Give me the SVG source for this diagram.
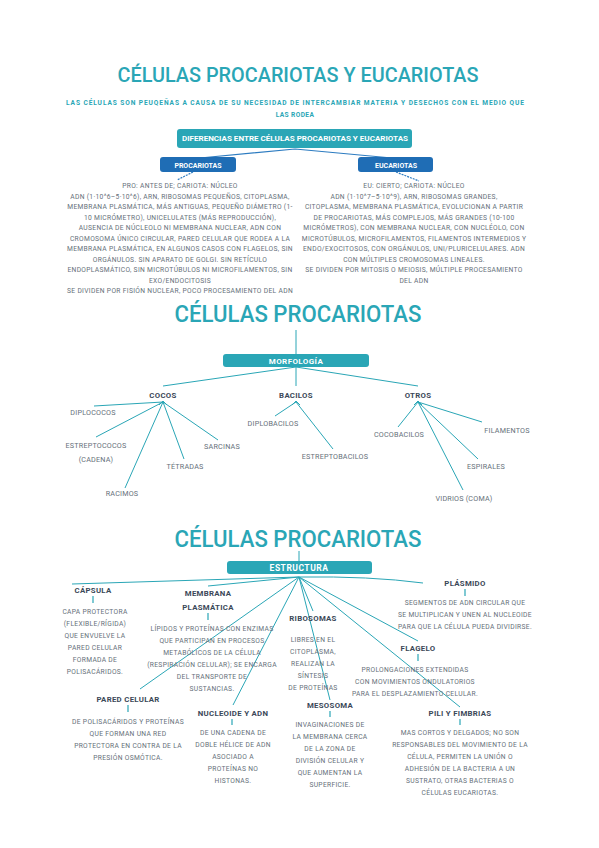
<svg xmlns="http://www.w3.org/2000/svg" width="599" height="848" viewBox="0 0 599 848">
<style>
text{font-family:Roboto,"Liberation Sans",sans-serif;text-anchor:middle}
.title{fill:#2aa6b6;font-weight:500}
.sub{fill:#2aa6b6;font-weight:700;font-size:6.6px}
.boxT{fill:#ffffff;font-weight:700}
.body{fill:#66707a;font-size:6.7px;letter-spacing:0.32px}
.lbl{fill:#3b4858;font-weight:700;font-size:7.8px;letter-spacing:0.3px}
.cat{fill:#66707a;font-size:7.2px;letter-spacing:0.2px}
.ln{stroke:#2aa6b6;stroke-width:1;fill:none}
.bl{stroke:#2d7cc1;stroke-width:1.2;fill:none}
.tick{stroke:#2aa6b6;stroke-width:1.2}
</style>
<rect width="599" height="848" fill="#ffffff"/>

<!-- header -->
<g id="header">
<text class="title" x="298" y="82" font-size="20" textLength="361" lengthAdjust="spacingAndGlyphs">CÉLULAS PROCARIOTAS Y EUCARIOTAS</text>
<text class="sub" x="295" y="105" textLength="458" lengthAdjust="spacing">LAS CÉLULAS SON PEUQEÑAS A CAUSA DE SU NECESIDAD DE INTERCAMBIAR MATERIA Y DESECHOS CON EL MEDIO QUE</text>
<text class="sub" x="295" y="117" letter-spacing="0.4">LAS RODEA</text>
</g>

<!-- connectors -->
<g id="connectors">
<path class="bl" d="M295 149 L200 158 M295 149 L392 158"/>
<path class="bl" d="M193 172 L177 180 M396 172 L419 181" stroke-dasharray="2 1"/>
<path class="ln" d="M296 330 V354"/>
<path class="ln" d="M296 367 L163 386 M296 367 V386 M296 367 L418 386"/>
<path class="ln" d="M163 402 L94 406 M163 402 L96 437 M163 402 L125 488 M163 402 L184 459 M163 402 L218 440"/>
<path class="ln" d="M296 402 L275 416 M296 402 L333 449"/>
<path class="ln" d="M418 402 L398 427 M418 402 L482 422 M418 402 L478 459 M418 402 L463 490"/>
<path class="ln" d="M159 405 L163 401 L167 405 M292 405 L296 401 L300 405 M414 405 L418 401 L422 405"/>
<path class="ln" d="M299 551 V561"/>
<path class="ln" d="M299 577 L72 584 M299 577 L208 586 M299 577 L140 689 M299 577 L233 705 M299 577 L313 611 M299 577 L330 700 M299 577 L418 641 M299 577 L460 707 M299 577 Q370 576 423 583"/>
<path class="tick" d="M93 596 V603 M208 613 V620 M128 705 V712 M465 589 V596 M418 654 V661 M232 719 V725 M330 711 V717 M460 719 V725"/>
</g>

<!-- differences -->
<g id="diferencias">
<rect x="177" y="129" width="235" height="19" rx="3" fill="#2aa6b6"/>
<text class="boxT" x="295" y="141" font-size="6.5" textLength="226" lengthAdjust="spacingAndGlyphs">DIFERENCIAS ENTRE CÉLULAS PROCARIOTAS Y EUCARIOTAS</text>
</g>
<g id="procariotas">
<rect x="160" y="157" width="76" height="15" rx="3" fill="#1f6db5"/>
<text class="boxT" x="198" y="167.5" font-size="7">PROCARIOTAS</text>
</g>
<g id="eucariotas">
<rect x="358" y="157" width="75" height="15" rx="3" fill="#1f6db5"/>
<text class="boxT" x="396" y="167.5" font-size="7">EUCARIOTAS</text>
</g>
<g id="procText">
<text class="body" x="180" y="188">PRO: ANTES DE; CARIOTA: NÚCLEO</text>
<text class="body" x="180" y="198.5">ADN (1·10^6–5·10^6), ARN, RIBOSOMAS PEQUEÑOS, CITOPLASMA,</text>
<text class="body" x="180" y="209">MEMBRANA PLASMÁTICA, MÁS ANTIGUAS, PEQUEÑO DIÁMETRO (1-</text>
<text class="body" x="180" y="219.5">10 MICRÓMETRO), UNICELULATES (MÁS REPRODUCCIÓN),</text>
<text class="body" x="180" y="230">AUSENCIA DE NÚCLEOLO NI MEMBRANA NUCLEAR, ADN CON</text>
<text class="body" x="180" y="240.5">CROMOSOMA ÚNICO CIRCULAR, PARED CELULAR QUE RODEA A LA</text>
<text class="body" x="180" y="251">MEMBRANA PLASMÁTICA, EN ALGUNOS CASOS CON FLAGELOS, SIN</text>
<text class="body" x="180" y="261.5">ORGÁNULOS. SIN APARATO DE GOLGI. SIN RETÍCULO</text>
<text class="body" x="180" y="272">ENDOPLASMÁTICO, SIN MICROTÚBULOS NI MICROFILAMENTOS, SIN</text>
<text class="body" x="180" y="282.5">EXO/ENDOCITOSIS</text>
<text class="body" x="180" y="293">SE DIVIDEN POR FISIÓN NUCLEAR, POCO PROCESAMIENTO DEL ADN</text>
</g>
<g id="eucText">
<text class="body" x="414" y="188">EU: CIERTO; CARIOTA: NÚCLEO</text>
<text class="body" x="414" y="198.5">ADN (1·10^7–5·10^9), ARN, RIBOSOMAS GRANDES,</text>
<text class="body" x="414" y="209">CITOPLASMA, MEMBRANA PLASMÁTICA, EVOLUCIONAN A PARTIR</text>
<text class="body" x="414" y="219.5">DE PROCARIOTAS, MÁS COMPLEJOS, MÁS GRANDES (10-100</text>
<text class="body" x="414" y="230">MICRÓMETROS), CON MEMBRANA NUCLEAR, CON NUCLÉOLO, CON</text>
<text class="body" x="414" y="240.5">MICROTÚBULOS, MICROFILAMENTOS, FILAMENTOS INTERMEDIOS Y</text>
<text class="body" x="414" y="251">ENDO/EXOCITOSOS, CON ORGÁNULOS, UNI/PLURICELULARES. ADN</text>
<text class="body" x="414" y="261.5">CON MÚLTIPLES CROMOSOMAS LINEALES.</text>
<text class="body" x="414" y="272">SE DIVIDEN POR MITOSIS O MEIOSIS, MÚLTIPLE PROCESAMIENTO</text>
<text class="body" x="414" y="282.5">DEL ADN</text>
</g>

<!-- section 2 -->
<g id="title2"><text class="title" x="298" y="322" font-size="23" textLength="247" lengthAdjust="spacingAndGlyphs">CÉLULAS PROCARIOTAS</text></g>
<g id="morfologia">
<rect x="223" y="354" width="146" height="13" rx="3" fill="#2aa6b6"/>
<text class="boxT" x="296" y="363.5" font-size="8" letter-spacing="0.4">MORFOLOGÍA</text>
</g>
<g id="cocos"><text class="lbl" x="163" y="398">COCOS</text></g>
<g id="bacilos"><text class="lbl" x="296" y="398">BACILOS</text></g>
<g id="otros"><text class="lbl" x="418" y="398">OTROS</text></g>
<g id="diplococos"><text class="cat" x="93" y="415">DIPLOCOCOS</text></g>
<g id="estreptococos"><text class="cat" x="96" y="448">ESTREPTOCOCOS</text><text class="cat" x="96" y="462">(CADENA)</text></g>
<g id="racimos"><text class="cat" x="122" y="496">RACIMOS</text></g>
<g id="tetradas"><text class="cat" x="185" y="469">TÉTRADAS</text></g>
<g id="sarcinas"><text class="cat" x="222" y="449">SARCINAS</text></g>
<g id="diplobacilos"><text class="cat" x="273" y="426">DIPLOBACILOS</text></g>
<g id="estreptobacilos"><text class="cat" x="335" y="459">ESTREPTOBACILOS</text></g>
<g id="cocobacilos"><text class="cat" x="399" y="437">COCOBACILOS</text></g>
<g id="filamentos"><text class="cat" x="507" y="433">FILAMENTOS</text></g>
<g id="espirales"><text class="cat" x="486" y="469">ESPIRALES</text></g>
<g id="vidrios"><text class="cat" x="464" y="501">VIDRIOS (COMA)</text></g>

<!-- section 3 -->
<g id="title3"><text class="title" x="298" y="547" font-size="23" textLength="247" lengthAdjust="spacingAndGlyphs">CÉLULAS PROCARIOTAS</text></g>
<g id="estructura">
<rect x="227" y="561" width="145" height="13" rx="3" fill="#2aa6b6"/>
<text class="boxT" x="299" y="570.5" font-size="8.5" letter-spacing="0.5">ESTRUCTURA</text>
</g>
<g id="capsula">
<text class="lbl" x="93" y="593">CÁPSULA</text>
<text class="body" x="95" y="614">CAPA PROTECTORA</text>
<text class="body" x="95" y="626">(FLEXIBLE/RÍGIDA)</text>
<text class="body" x="95" y="638">QUE ENVUELVE LA</text>
<text class="body" x="95" y="650">PARED CELULAR</text>
<text class="body" x="95" y="662">FORMADA DE</text>
<text class="body" x="95" y="674">POLISACÁRIDOS.</text>
</g>
<g id="membrana">
<text class="lbl" x="208" y="596">MEMBRANA</text>
<text class="lbl" x="208" y="610">PLASMÁTICA</text>
<text class="body" x="212" y="631">LÍPIDOS Y PROTEÍNAS CON ENZIMAS</text>
<text class="body" x="212" y="643">QUE PARTICIPAN EN PROCESOS</text>
<text class="body" x="212" y="655">METABÓLICOS DE LA CÉLULA</text>
<text class="body" x="212" y="667">(RESPIRACIÓN CELULAR); SE ENCARGA</text>
<text class="body" x="212" y="679">DEL TRANSPORTE DE</text>
<text class="body" x="212" y="691">SUSTANCIAS.</text>
</g>
<g id="ribosomas">
<text class="lbl" x="313" y="621">RIBOSOMAS</text>
<text class="body" x="313" y="642">LIBRES EN EL</text>
<text class="body" x="313" y="654">CITOPLASMA,</text>
<text class="body" x="313" y="666">REALIZAN LA</text>
<text class="body" x="313" y="678">SÍNTESIS</text>
<text class="body" x="313" y="690">DE PROTEÍNAS</text>
</g>
<g id="plasmido">
<text class="lbl" x="465" y="586">PLÁSMIDO</text>
<text class="body" x="465" y="605">SEGMENTOS DE ADN CIRCULAR QUE</text>
<text class="body" x="465" y="617">SE MULTIPLICAN Y UNEN AL NUCLEOIDE</text>
<text class="body" x="465" y="629">PARA QUE LA CÉLULA PUEDA DIVIDIRSE.</text>
</g>
<g id="flagelo">
<text class="lbl" x="418" y="651">FLAGELO</text>
<text class="body" x="415" y="672">PROLONGACIONES EXTENDIDAS</text>
<text class="body" x="415" y="684">CON MOVIMIENTOS ONDULATORIOS</text>
<text class="body" x="415" y="696">PARA EL DESPLAZAMIENTO CELULAR.</text>
</g>
<g id="pared">
<text class="lbl" x="128" y="702">PARED CELULAR</text>
<text class="body" x="128" y="724">DE POLISACÁRIDOS Y PROTEÍNAS</text>
<text class="body" x="128" y="736">QUE FORMAN UNA RED</text>
<text class="body" x="128" y="748">PROTECTORA EN CONTRA DE LA</text>
<text class="body" x="128" y="760">PRESIÓN OSMÓTICA.</text>
</g>
<g id="nucleoide">
<text class="lbl" x="233" y="716">NUCLEOIDE Y ADN</text>
<text class="body" x="233" y="735">DE UNA CADENA DE</text>
<text class="body" x="233" y="747">DOBLE HÉLICE DE ADN</text>
<text class="body" x="233" y="759">ASOCIADO A</text>
<text class="body" x="233" y="771">PROTEÍNAS NO</text>
<text class="body" x="233" y="783">HISTONAS.</text>
</g>
<g id="mesosoma">
<text class="lbl" x="330" y="708">MESOSOMA</text>
<text class="body" x="330" y="727">INVAGINACIONES DE</text>
<text class="body" x="330" y="739">LA MEMBRANA CERCA</text>
<text class="body" x="330" y="751">DE LA ZONA DE</text>
<text class="body" x="330" y="763">DIVISIÓN CELULAR Y</text>
<text class="body" x="330" y="775">QUE AUMENTAN LA</text>
<text class="body" x="330" y="787">SUPERFICIE.</text>
</g>
<g id="pili">
<text class="lbl" x="460" y="716">PILI Y FIMBRIAS</text>
<text class="body" x="460" y="735">MAS CORTOS Y DELGADOS; NO SON</text>
<text class="body" x="460" y="747">RESPONSABLES DEL MOVIMIENTO DE LA</text>
<text class="body" x="460" y="759">CÉLULA, PERMITEN LA UNIÓN O</text>
<text class="body" x="460" y="771">ADHESIÓN DE LA BACTERIA A UN</text>
<text class="body" x="460" y="783">SUSTRATO, OTRAS BACTERIAS O</text>
<text class="body" x="460" y="795">CÉLULAS EUCARIOTAS.</text>
</g>
</svg>
